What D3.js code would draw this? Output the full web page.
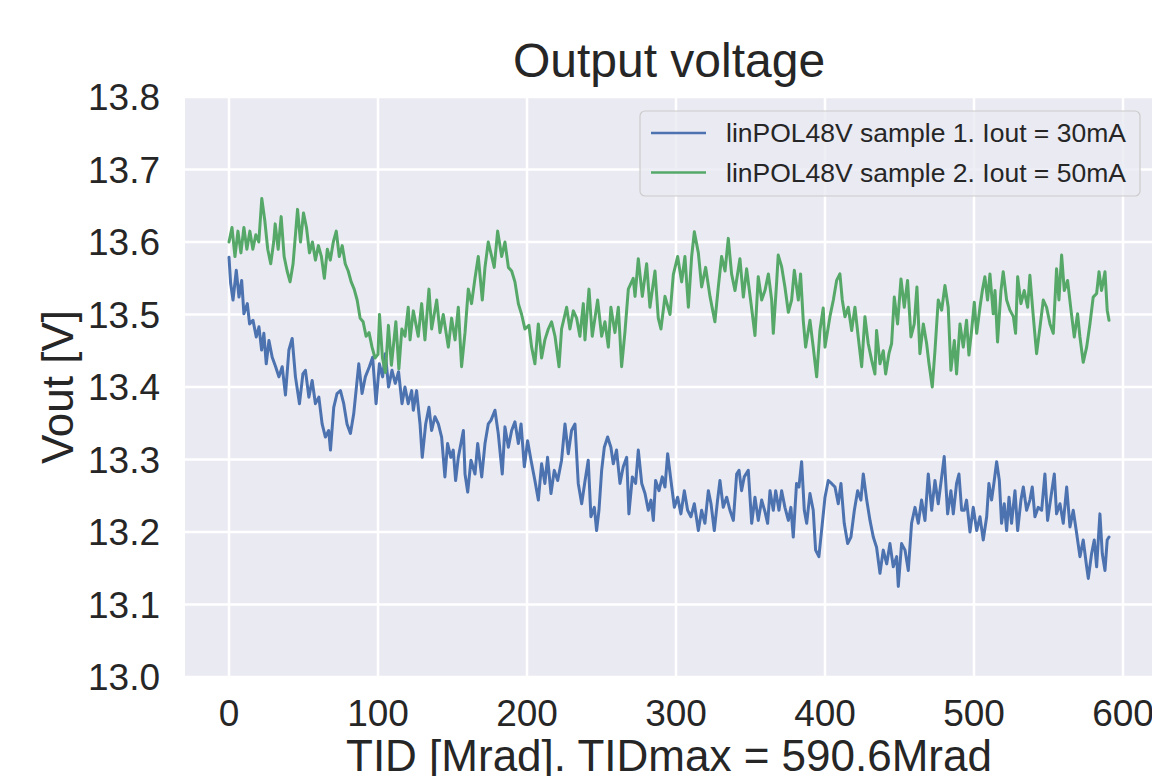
<!DOCTYPE html>
<html>
<head>
<meta charset="utf-8">
<script src="https://cdn.jsdelivr.net/npm/d3@7"></script>
<style>
  html, body { margin: 0; padding: 0; background: #ffffff; overflow: hidden; }
  svg { display: block; }
  text { font-family: "Liberation Sans", Arial, sans-serif; fill: #262626; }
</style>
</head>
<body>
<svg id="chart" width="1152" height="776"></svg>
<script>
// ---------------- DATA ----------------
const titleText = "Output voltage";
const xLabel = "TID [Mrad]. TIDmax = 590.6Mrad";
const yLabel = "Vout [V]";
const seriesNames = ["linPOL48V sample 1. Iout = 30mA", "linPOL48V sample 2. Iout = 50mA"];
const xTicks = [0, 100, 200, 300, 400, 500, 600];
const yTicks = [13.0, 13.1, 13.2, 13.3, 13.4, 13.5, 13.6, 13.7, 13.8];
const tidMax = 590.6;

const blueTID = [0,1.1,2.7,4.9,6.7,8.5,10,12.3,13.8,16.1,18.3,20.1,21.9,23.4,25,26.8,29,31.3,33.5,35.7,37.9,40.2,42.4,44.6,47.3,49.6,51.3,53.6,55.8,58,60.3,62.5,64.7,66.9,68.1,70.3,72.5,74.8,77,79.2,81.5,83.7,87.1,89.3,91.5,94.2,96.4,98.7,100.9,103.1,104.9,107.1,109.4,111.6,113.8,116.1,118.1,120.3,122.6,123.7,125.9,128.2,129.7,132,134.2,136,138.2,140.5,142.7,144.9,146.7,148.9,150.5,152.1,153.9,157.3,158.4,160.2,162.4,165.1,166.9,169.6,171.8,174,175.8,178.5,180.7,183.4,185.2,187.5,189.7,191.9,194.2,196,198.2,200.4,202.7,205.3,207.6,209.8,212,213.8,216.1,218.3,220.6,223.2,225.5,227.7,229.9,232.2,234.4,236.7,238.9,241.1,242.9,245.2,246.7,248.3,250.1,251.9,254.1,256.3,257.9,260.1,262.4,264.6,266.9,268.4,270.7,272.9,274.7,277,279.2,281.4,283.2,284.8,286.3,288.6,290.8,292.6,294.4,296.6,298.9,301.1,303.3,305.6,307.8,310,312.3,315,317.2,319.4,321.7,323.5,325.7,327.9,329.5,331.7,334,336.2,338.5,340.7,342.3,344,345.8,348.5,350.8,353,355.2,357.5,359.7,361.5,363.1,365.3,366.9,369.1,370.9,373.1,375.4,377.1,378.7,380.9,382.5,384.3,386.1,387.7,389.9,392.1,393.7,395.9,397.7,400,402.2,404.4,406.7,408.9,410.7,412.9,415.2,417.4,419.7,421.9,424.1,425.7,428,430.2,432.4,434.6,436.9,439.1,441.4,443.6,445.8,448.1,449.2,451.4,453.7,455.9,458.1,460.4,462.6,464.8,467.1,469.3,471.6,473.8,476,478.3,480,482.3,484.5,486.1,488.3,489.9,491.7,493.5,495,497.3,499.5,501.8,504,506.2,508.5,510,511.8,513.6,515.2,517,518.5,520.3,521.9,523.5,525.2,527.5,529.3,531.5,533.1,535.3,537.5,539.1,540.9,543.1,545.4,547.6,549.4,551.6,553.9,555.4,557.7,559.9,562.2,564.4,566.6,568.9,571.1,573.3,575.6,576.7,578.9,580.7,582.3,584.5,586.1,587.9,589.4,590.6];
const blueV = [13.579,13.543,13.52,13.561,13.524,13.547,13.501,13.515,13.487,13.492,13.469,13.483,13.451,13.474,13.432,13.464,13.441,13.428,13.414,13.428,13.389,13.451,13.467,13.414,13.377,13.418,13.423,13.386,13.409,13.377,13.386,13.349,13.331,13.34,13.313,13.372,13.391,13.395,13.377,13.349,13.336,13.363,13.432,13.391,13.414,13.428,13.441,13.377,13.432,13.414,13.446,13.40,13.423,13.405,13.421,13.377,13.40,13.377,13.395,13.368,13.395,13.349,13.303,13.349,13.372,13.34,13.359,13.349,13.331,13.276,13.322,13.303,13.313,13.271,13.303,13.34,13.28,13.255,13.299,13.28,13.322,13.276,13.322,13.349,13.354,13.368,13.336,13.28,13.345,13.317,13.34,13.352,13.322,13.349,13.29,13.326,13.299,13.271,13.244,13.294,13.267,13.303,13.253,13.285,13.271,13.299,13.349,13.308,13.34,13.349,13.267,13.239,13.27,13.299,13.221,13.234,13.202,13.23,13.285,13.317,13.331,13.317,13.294,13.313,13.267,13.29,13.303,13.225,13.276,13.267,13.313,13.267,13.253,13.23,13.244,13.216,13.271,13.257,13.276,13.262,13.308,13.271,13.234,13.248,13.225,13.257,13.23,13.221,13.239,13.202,13.23,13.212,13.257,13.239,13.202,13.244,13.271,13.234,13.248,13.23,13.216,13.28,13.285,13.257,13.276,13.285,13.212,13.248,13.216,13.244,13.228,13.212,13.257,13.23,13.257,13.23,13.257,13.234,13.216,13.234,13.193,13.267,13.262,13.297,13.23,13.212,13.253,13.23,13.175,13.166,13.202,13.248,13.271,13.267,13.262,13.239,13.267,13.212,13.184,13.193,13.23,13.257,13.244,13.28,13.244,13.216,13.193,13.179,13.143,13.175,13.156,13.184,13.152,13.166,13.125,13.184,13.175,13.147,13.212,13.234,13.212,13.244,13.216,13.28,13.23,13.271,13.239,13.276,13.304,13.225,13.257,13.225,13.267,13.28,13.23,13.23,13.244,13.2,13.234,13.202,13.221,13.189,13.221,13.267,13.244,13.271,13.297,13.271,13.212,13.239,13.202,13.248,13.212,13.257,13.202,13.244,13.262,13.23,13.244,13.262,13.221,13.234,13.23,13.28,13.216,13.248,13.28,13.225,13.239,13.212,13.262,13.207,13.23,13.198,13.166,13.189,13.152,13.136,13.17,13.189,13.152,13.225,13.17,13.147,13.189,13.193];

const greenTID = [0,2,4,6,8,10,12,14,16,18,20,22,24,26,28,30,31,33,35,37,39,41,43,45,46,48,50,52,54,56,58,60,62,64,66,68,70,72,74,76,78,80,82,84,86,88,90,92,94,96,98,100,101,103,105,107,109,112,114,116,118.1,120.3,121.5,123.7,127,129.3,131.5,134.2,136,139.4,141.6,143.8,147.2,149.4,151.7,153.9,156.1,158.4,160.6,162.8,165.1,167.3,170,171.8,174,176.3,178,180.3,183,185.2,187.5,189.7,191.9,194.2,196.4,198.6,201.3,203.1,205.3,207.6,209.8,212,214.3,216.5,218.8,221.5,223.2,226.6,228.8,231.1,233.3,235.5,237.8,238.9,241.6,243.8,247.4,250.1,252.3,254.6,256.3,259,261.3,263.5,265.7,268,271.3,272.5,274.7,277.4,280.3,282.5,285.9,288.1,289.9,292.6,296,298.2,301.1,303.8,306,308.3,310.5,312.3,315,317.2,319.9,322.8,326.1,328.4,330.6,332.9,335.1,337.3,339.6,342.9,345.2,347.4,350.8,353,355.2,357.5,359.7,362,364.2,365.3,367.5,368.6,370.9,373.1,375.4,377.6,379.4,382.1,383.6,385.4,387,389.9,392.1,394.4,396.6,398.8,400,403.3,405.6,407.8,410,411.6,413.4,415.6,417.9,420.1,422.3,424.6,426.8,429,431.3,433.5,434.6,436.9,439.1,440.7,442.9,444.7,446.5,448.7,451,453.2,455.4,457.7,459.9,461.7,463.7,466,468.2,469.8,472,473.8,476,478.3,480.5,482.7,484.5,486.8,488.3,490.6,492.8,495,496.6,498.4,500.2,501.8,504,505.6,507.3,509.1,510.7,512.9,514.1,515.8,518.1,519.6,521.9,524.1,526.4,527.9,529.3,531.5,533.7,536,537.5,539.8,542,544.3,546.5,548.7,551,553.2,555.4,557,558.8,560.6,562.8,565.1,567.3,569.5,571.1,573.3,575.6,577.8,580,582.3,583.9,585.6,587.9,589.4,590.6];
const greenV = [13.60,13.62,13.58,13.615,13.585,13.62,13.59,13.615,13.59,13.61,13.60,13.66,13.63,13.59,13.57,13.60,13.625,13.59,13.635,13.58,13.56,13.545,13.57,13.62,13.645,13.60,13.64,13.62,13.585,13.60,13.575,13.595,13.58,13.55,13.59,13.575,13.60,13.615,13.58,13.595,13.57,13.56,13.545,13.535,13.52,13.495,13.49,13.47,13.475,13.455,13.44,13.445,13.50,13.44,13.42,13.485,13.43,13.49,13.425,13.48,13.47,13.51,13.465,13.505,13.47,13.515,13.465,13.535,13.48,13.52,13.475,13.50,13.455,13.495,13.465,13.51,13.428,13.475,13.535,13.515,13.55,13.58,13.52,13.565,13.60,13.58,13.565,13.615,13.58,13.60,13.565,13.56,13.545,13.515,13.50,13.48,13.485,13.455,13.432,13.487,13.44,13.465,13.48,13.49,13.47,13.428,13.48,13.51,13.48,13.505,13.495,13.47,13.515,13.465,13.535,13.47,13.52,13.47,13.49,13.455,13.51,13.475,13.51,13.428,13.475,13.535,13.55,13.525,13.577,13.525,13.57,13.51,13.56,13.495,13.48,13.525,13.50,13.555,13.58,13.545,13.58,13.51,13.58,13.614,13.585,13.538,13.565,13.525,13.49,13.538,13.58,13.56,13.605,13.556,13.533,13.577,13.524,13.563,13.508,13.471,13.552,13.52,13.533,13.556,13.52,13.474,13.543,13.582,13.566,13.538,13.503,13.52,13.561,13.52,13.556,13.492,13.455,13.492,13.455,13.414,13.478,13.509,13.455,13.497,13.52,13.547,13.556,13.52,13.497,13.51,13.478,13.51,13.469,13.428,13.497,13.46,13.437,13.418,13.478,13.432,13.45,13.418,13.446,13.46,13.524,13.487,13.549,13.51,13.547,13.469,13.487,13.538,13.446,13.487,13.46,13.432,13.40,13.45,13.52,13.506,13.54,13.51,13.423,13.464,13.418,13.487,13.455,13.492,13.444,13.478,13.517,13.474,13.51,13.533,13.552,13.52,13.556,13.501,13.533,13.462,13.533,13.559,13.52,13.506,13.497,13.474,13.552,13.515,13.533,13.51,13.554,13.497,13.446,13.483,13.52,13.51,13.487,13.474,13.563,13.52,13.582,13.533,13.547,13.506,13.469,13.501,13.469,13.434,13.455,13.487,13.524,13.529,13.559,13.533,13.559,13.506,13.492];

const colors = ["#4c72b0", "#55a868"];

// ---------------- LAYOUT ----------------
const svg = d3.select("#chart");
const plot = { left: 185, right: 1153, top: 97, bottom: 677 };
const margin = tidMax * 0.05;
const x = d3.scaleLinear().domain([-margin, tidMax + margin]).range([plot.left, plot.right]);
const y = d3.scaleLinear().domain([13.0, 13.8]).range([plot.bottom, plot.top]);

const tickFs = 37, labelFs = 44, titleFs = 48, legendFs = 26.5;

// background
svg.append("rect")
  .attr("x", plot.left).attr("y", plot.top)
  .attr("width", plot.right - plot.left).attr("height", plot.bottom - plot.top)
  .attr("fill", "#eaeaf2");

// grid
const grid = svg.append("g");
grid.selectAll("line.gx").data(xTicks).join("line")
  .attr("x1", d => x(d)).attr("x2", d => x(d))
  .attr("y1", plot.top).attr("y2", plot.bottom)
  .attr("stroke", "#ffffff").attr("stroke-width", 2.5);
grid.selectAll("line.gy").data(yTicks).join("line")
  .attr("class", "gy")
  .attr("x1", plot.left).attr("x2", plot.right)
  .attr("y1", d => y(d)).attr("y2", d => y(d))
  .attr("stroke", "#ffffff").attr("stroke-width", 2.5);

// tick labels
svg.append("g").selectAll("text").data(xTicks).join("text")
  .attr("x", d => x(d)).attr("y", 726)
  .attr("text-anchor", "middle")
  .attr("font-size", tickFs)
  .text(d => d3.format("d")(d));
svg.append("g").selectAll("text").data(yTicks).join("text")
  .attr("x", 160).attr("y", d => y(d) + tickFs * 0.358)
  .attr("text-anchor", "end")
  .attr("font-size", tickFs)
  .text(d => d3.format(".1f")(d));

// lines
svg.append("clipPath").attr("id", "clip").append("rect")
  .attr("x", plot.left).attr("y", plot.top)
  .attr("width", plot.right - plot.left).attr("height", plot.bottom - plot.top);

const line = d3.line().x(d => x(d[0])).y(d => y(d[1]));
const blueData = blueTID.map((t, i) => [t, blueV[i]]);
const greenData = greenTID.map((t, i) => [t, greenV[i]]);
[blueData, greenData].forEach((data, i) => {
  svg.append("path")
    .datum(data)
    .attr("clip-path", "url(#clip)")
    .attr("fill", "none")
    .attr("stroke", colors[i])
    .attr("stroke-width", 3)
    .attr("stroke-linejoin", "round")
    .attr("stroke-linecap", "round")
    .attr("d", line);
});

// title & axis labels
svg.append("text")
  .attr("x", (plot.left + plot.right) / 2).attr("y", 77)
  .attr("text-anchor", "middle").attr("font-size", titleFs)
  .text(titleText);
svg.append("text")
  .attr("x", (plot.left + plot.right) / 2).attr("y", 771)
  .attr("text-anchor", "middle").attr("font-size", labelFs)
  .text(xLabel);
svg.append("text")
  .attr("transform", `translate(73, ${(plot.top + plot.bottom) / 2}) rotate(-90)`)
  .attr("text-anchor", "middle").attr("font-size", labelFs)
  .text(yLabel);

// legend
const lg = svg.append("g");
lg.append("rect")
  .attr("x", 640).attr("y", 111).attr("width", 500).attr("height", 85)
  .attr("rx", 5).attr("ry", 5)
  .attr("fill", "#eaeaf2").attr("fill-opacity", 0.8)
  .attr("stroke", "#cccccc").attr("stroke-width", 1.2);
const rowsY = [133, 172.5];
seriesNames.forEach((name, i) => {
  lg.append("line")
    .attr("x1", 651).attr("x2", 706)
    .attr("y1", rowsY[i]).attr("y2", rowsY[i])
    .attr("stroke", colors[i]).attr("stroke-width", 2.4);
  lg.append("text")
    .attr("x", 726).attr("y", rowsY[i] + legendFs * 0.358)
    .attr("font-size", legendFs)
    .text(name);
});
</script>
</body>
</html>
